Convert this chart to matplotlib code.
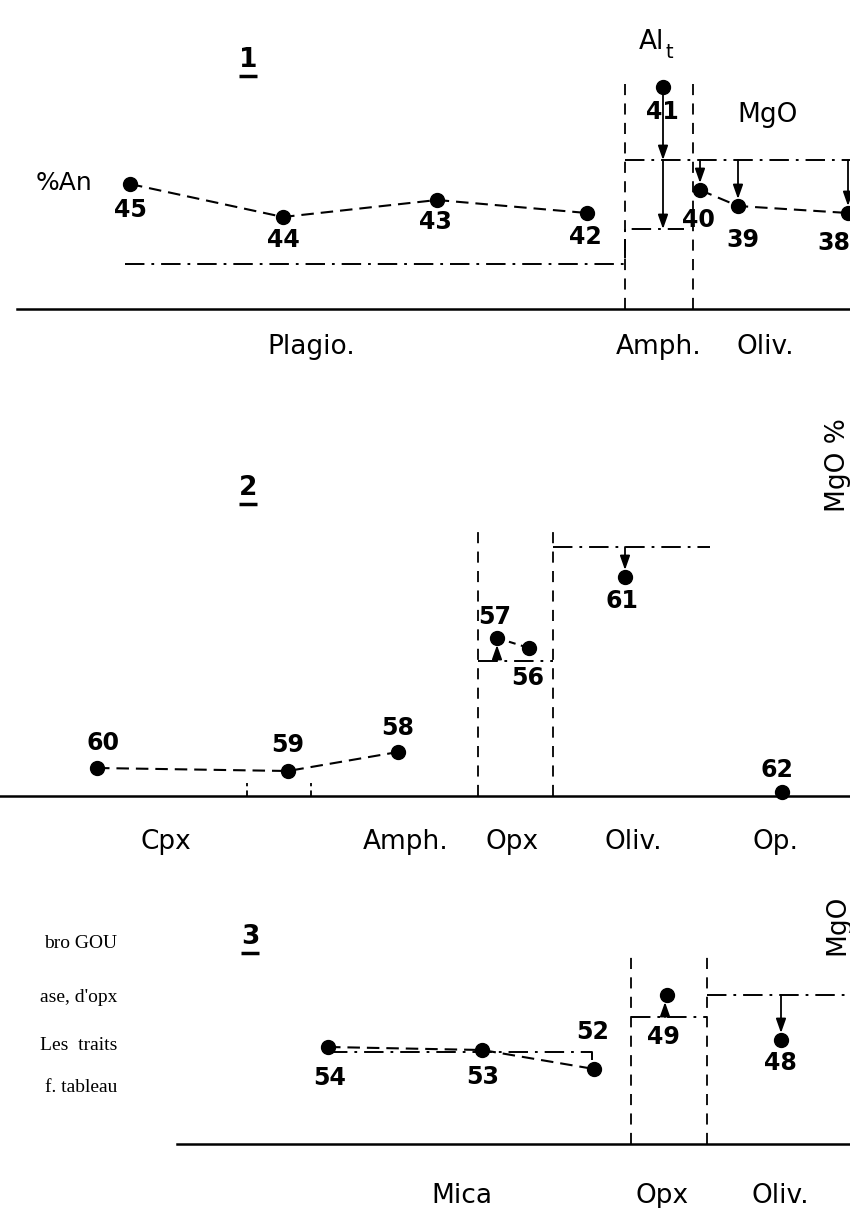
import matplotlib
matplotlib.use("Agg")
import matplotlib.pyplot as plt

plt.rcParams['lines.scale_dashes'] = False
plt.rcParams['font.family'] = ['DejaVu Sans']

# ------------------------------------------------------------------
# Data (x = position along the profile, y = value above the baseline)
# ------------------------------------------------------------------
# Panel 1 : plagioclase %An, amphibole Al_t, olivine MgO
plag_x = [130, 283, 437, 587]
plag_val = [125, 92, 109, 96]
plag_ids = ['45', '44', '43', '42']
plag_ref = 45
amph1_x = [663]
amph1_val = [222]
amph1_ids = ['41']
amph1_ref_hi = 149
amph1_ref_lo = 80
oliv1_x = [700, 738, 848]
oliv1_val = [119, 103, 96]
oliv1_ids = ['40', '39', '38']
oliv1_ref = 149
p1_lab_x = [130, 283, 435, 585, 662, 698, 743, 834]
p1_lab_y = [99, 69, 87, 72, 197, 89, 69, 66]
p1_minerals = ['Plagio.', 'Amph.', 'Oliv.']
p1_mineral_x = [311, 659, 765]
p1_box_x = [625, 693]

# Panel 2 : MgO %
cpx_x = [97, 288]
cpx_val = [28, 25]
amph2_x = [398]
amph2_val = [44]
opx2_x = [497, 529]
opx2_val = [158, 148]
opx2_ref = 135
oliv2_x = [625]
oliv2_val = [219]
oliv2_ref = 249
op_x = [782]
op_val = [4]
p2_ids = ['60', '59', '58', '57', '56', '61', '62']
p2_lab_x = [103, 288, 398, 495, 528, 622, 777]
p2_lab_y = [53, 51, 68, 179, 118, 195, 26]
p2_minerals = ['Cpx', 'Amph.', 'Opx', 'Oliv.', 'Op.']
p2_mineral_x = [166, 406, 512, 633, 776]
p2_box_x = [478, 553]
cpx_ticks_x = [247, 311]

# Panel 3 : MgO
mica_x = [328, 482, 594]
mica_val = [97, 94, 75]
mica_ref = 92
opx3_x = [667]
opx3_val = [149]
opx3_ref = 127
oliv3_x = [781]
oliv3_val = [104]
oliv3_ref = 149
p3_ids = ['54', '53', '52', '49', '48']
p3_lab_x = [330, 483, 593, 663, 780]
p3_lab_y = [66, 67, 112, 107, 81]
p3_minerals = ['Mica', 'Opx', 'Oliv.']
p3_mineral_x = [462, 662, 780]
p3_box_x = [631, 707]

side_text = ['bro GOU', "ase, d'opx", 'Les  traits', 'f. tableau']
side_text_y = [201, 147, 99, 56]

# ------------------------------------------------------------------
W, H = 850, 1208
fig = plt.figure(figsize=(W / 100, H / 100), dpi=100)
fig.patch.set_facecolor('white')

def make_ax(top_px, bot_px, base_px):
    ax = fig.add_axes([0, 1 - bot_px / H, 1, (bot_px - top_px) / H])
    ax.set_xlim(0, W)
    ax.set_ylim(base_px - bot_px, base_px - top_px)
    ax.set_axis_off()
    return ax

ax1 = make_ax(0, 400, 309)
ax2 = make_ax(400, 870, 796)
ax3 = make_ax(870, 1208, 1144)

K = 'black'
DASH = (0, (9, 5))
DDOT = (0, (14, 5, 2, 5))
VDASH = (0, (8, 6))
MS = 10
R = 7  # marker radius in data units (px)

num_font = dict(fontsize=17, fontweight='bold', ha='center', va='center', color=K)
lab_font = dict(fontsize=19, ha='center', va='center', color=K)


def pts(ax, x, y, ls=DASH, connect=True):
    ax.plot(x, y, linestyle=ls if connect else 'none', color=K, lw=1.5,
            marker='o', ms=MS, mfc=K, mec=K, zorder=3)


def arrow(ax, x, y0, y1):
    ax.annotate('', xy=(x, y1), xytext=(x, y0),
                arrowprops=dict(arrowstyle='-|>,head_length=0.85,head_width=0.3',
                                color=K, lw=1.3, shrinkA=0, shrinkB=0,
                                mutation_scale=10), zorder=2)


def panel_number(ax, x, y, s):
    ax.text(x, y, s, fontsize=19, fontweight='bold', ha='center', va='center')
    ax.plot([x - 9, x + 9], [y - 16, y - 16], color=K, lw=2.5,
            solid_capstyle='butt')

# ---------------- Panel 1 ----------------
ax1.plot([17, W], [0, 0], color=K, lw=1.8)
for bx in p1_box_x:
    ax1.plot([bx, bx], [0, 231], color=K, lw=1.3, linestyle=VDASH)
pts(ax1, plag_x, plag_val)
pts(ax1, oliv1_x, oliv1_val)
pts(ax1, amph1_x, amph1_val, connect=False)
ax1.plot([125, p1_box_x[0], p1_box_x[0], 684],
         [plag_ref, plag_ref, amph1_ref_lo, amph1_ref_lo],
         color=K, lw=1.4, linestyle=DDOT)
ax1.plot([p1_box_x[0], W + 5], [oliv1_ref, oliv1_ref], color=K, lw=1.4,
         linestyle=DDOT)
arrow(ax1, amph1_x[0], amph1_val[0] - R, amph1_ref_hi)
arrow(ax1, amph1_x[0], amph1_ref_hi, amph1_ref_lo)
for x, v in zip(oliv1_x, oliv1_val):
    arrow(ax1, x, oliv1_ref, v + R)
for s, x, y in zip(plag_ids + amph1_ids + oliv1_ids, p1_lab_x, p1_lab_y):
    ax1.text(x, y, s, **num_font)
for s, x in zip(p1_minerals, p1_mineral_x):
    ax1.text(x, -38, s, **lab_font)
panel_number(ax1, 248, 249, '1')
ax1.text(64, 126, '%An', fontsize=18, ha='center', va='center')
ax1.text(651, 267, 'Al', fontsize=19, ha='center', va='center')
ax1.text(669, 256, 't', fontsize=14, ha='center', va='center')
ax1.text(768, 194, 'MgO', fontsize=19, ha='center', va='center')

# ---------------- Panel 2 ----------------
ax2.plot([0, W], [0, 0], color=K, lw=1.8)
for bx in p2_box_x:
    ax2.plot([bx, bx], [0, 271], color=K, lw=1.3, linestyle=VDASH)
for tx in cpx_ticks_x:
    ax2.plot([tx, tx], [0, 13], color=K, lw=1.3, linestyle=(0, (4, 3)))
pts(ax2, cpx_x + amph2_x, cpx_val + amph2_val)
pts(ax2, opx2_x, opx2_val, ls=(0, (5, 4)))
pts(ax2, oliv2_x, oliv2_val, connect=False)
pts(ax2, op_x, op_val, connect=False)
ax2.plot(p2_box_x, [opx2_ref, opx2_ref], color=K, lw=1.4, linestyle=DDOT)
ax2.plot([p2_box_x[1], 710], [oliv2_ref, oliv2_ref], color=K, lw=1.4,
         linestyle=DDOT)
arrow(ax2, opx2_x[0], opx2_ref, opx2_val[0] - R)
arrow(ax2, oliv2_x[0], oliv2_ref, oliv2_val[0] + R)
for s, x, y in zip(p2_ids, p2_lab_x, p2_lab_y):
    ax2.text(x, y, s, **num_font)
for s, x in zip(p2_minerals, p2_mineral_x):
    ax2.text(x, -46, s, **lab_font)
panel_number(ax2, 248, 308, '2')
ax2.text(838, 331, 'MgO %', fontsize=19, rotation=90, ha='center', va='center')

# ---------------- Panel 3 ----------------
ax3.plot([177, W], [0, 0], color=K, lw=1.8)
for bx in p3_box_x:
    ax3.plot([bx, bx], [0, 192], color=K, lw=1.3, linestyle=VDASH)
pts(ax3, mica_x, mica_val)
pts(ax3, opx3_x, opx3_val, connect=False)
pts(ax3, oliv3_x, oliv3_val, connect=False)
ax3.plot([mica_x[0], 592, 592], [mica_ref, mica_ref, mica_ref - 8], color=K,
         lw=1.4, linestyle=DDOT)
ax3.plot(p3_box_x, [opx3_ref, opx3_ref], color=K, lw=1.4, linestyle=DDOT)
ax3.plot([p3_box_x[1], W + 5], [oliv3_ref, oliv3_ref], color=K, lw=1.4,
         linestyle=DDOT)
arrow(ax3, opx3_x[0] - 2, opx3_ref, opx3_val[0] - R)
arrow(ax3, oliv3_x[0], oliv3_ref, oliv3_val[0] + R)
for s, x, y in zip(p3_ids, p3_lab_x, p3_lab_y):
    ax3.text(x, y, s, **num_font)
for s, x in zip(p3_minerals, p3_mineral_x):
    ax3.text(x, -52, s, **lab_font)
panel_number(ax3, 250, 207, '3')
ax3.text(837, 219, 'MgO', fontsize=19, rotation=90, ha='center', va='center')
for s, y in zip(side_text, side_text_y):
    ax3.text(117, y, s, fontsize=14, family='Liberation Serif', ha='right',
             va='center')

fig.savefig('out.png', dpi=100, facecolor='white')
